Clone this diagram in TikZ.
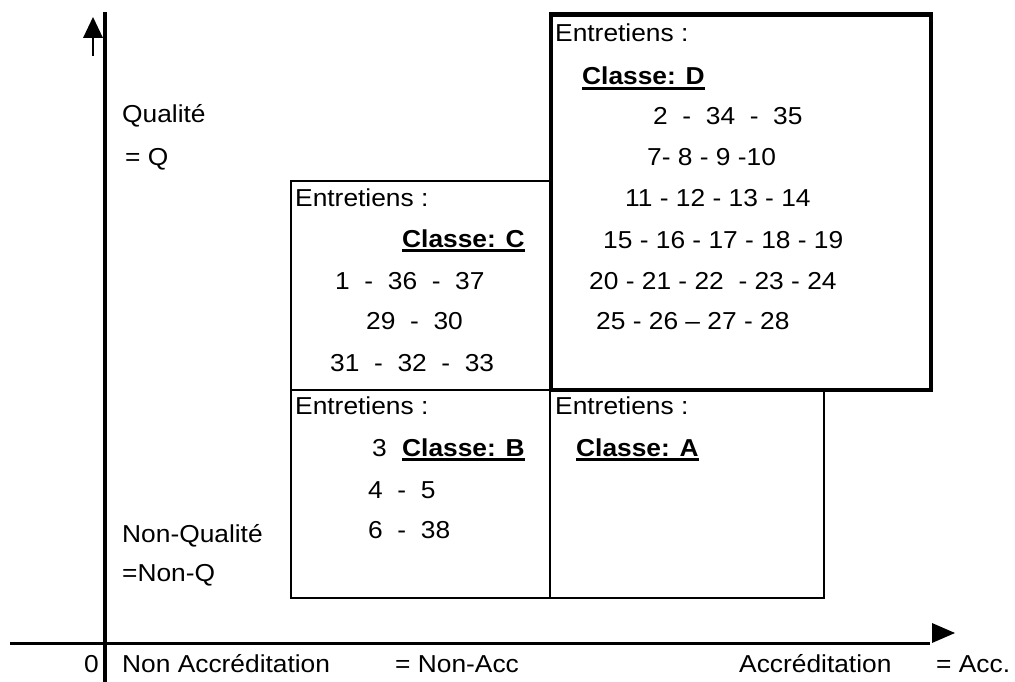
\documentclass[tikz,border=0pt]{standalone}
\usepackage{fontspec}
\setmainfont{Liberation Sans}[FakeStretch=1.075]
\newcommand\ulcl[1]{\setbox0=\hbox{\bfseries #1}\rlap{\rule[-4.6pt]{\wd0}{2.5pt}}\box0}
\begin{document}
\begin{tikzpicture}[x=1pt,y=-1pt,
  txt/.style={anchor=base west,inner sep=0pt,font=\fontsize{24.5}{29}\selectfont},
  thinbox/.style={draw=black,line width=2pt},
  thickbox/.style={draw=black,line width=4.3pt},
  axis/.style={draw=black,line width=#1},
  headfill/.style={fill=black}]
\useasboundingbox (0,0) rectangle (1015,682);
% coordinates
\coordinate (ytop) at (105,12);
\coordinate (ybot) at (105,682);
\coordinate (xleft) at (10,643.5);
\coordinate (xright) at (930,643.5);
\coordinate (yarrS) at (92.5,56);
\coordinate (yarrB) at (92.5,37);
\coordinate (Cnw) at (291,181);
\coordinate (Cse) at (550,390);
\coordinate (Bnw) at (291,390);
\coordinate (Bse) at (550,598);
\coordinate (Anw) at (550,390);
\coordinate (Ase) at (824,598);
\coordinate (Dnw) at (551,14.5);
\coordinate (Dse) at (931,390);
% axes
\draw[axis=4pt] (ytop) -- (ybot);
\draw[axis=3.5pt] (xleft) -- (xright);
\draw[axis=2pt] (yarrS) -- (yarrB);
\fill[headfill] (83,38) -- (103,38) -- (93,17) -- cycle;
\fill[headfill] (932,623) -- (932,643) -- (955,633) -- cycle;
% boxes
\draw[thinbox] (Cnw) rectangle (Cse);
\draw[thinbox] (Bnw) rectangle (Bse);
\draw[thinbox] (Anw) rectangle (Ase);
\draw[thickbox] (Dnw) rectangle (Dse);
% left labels
\node[txt] (q1) at (122,123) {Qualité};
\node[txt] (q2) at (125,165) {= Q};
\node[txt] (nq1) at (122,542) {Non-Qualité};
\node[txt] (nq2) at (122,581) {=Non-Q};
% D
\node[txt] (d0) at (555,42) {Entretiens :};
\node[txt] (d1) at (582,85) {\ulcl{Classe: D}};
\node[txt] (d2) at (653,125) {2~~-~~34~~-~~35};
\node[txt] (d3) at (647,165) {7- 8 - 9 -10};
\node[txt] (d4) at (625,207) {11 - 12 - 13 - 14};
\node[txt] (d5) at (603,248) {15 - 16 - 17 - 18 - 19};
\node[txt] (d6) at (589,289) {20 - 21 - 22~~- 23 - 24};
\node[txt] (d7) at (596,329) {25 - 26 -- 27 - 28};
% C
\node[txt] (c0) at (295,207) {Entretiens :};
\node[txt] (c1) at (402,247) {\ulcl{Classe: C}};
\node[txt] (c2) at (335,289) {1~~-~~36~~-~~37};
\node[txt] (c3) at (366,329) {29~~-~~30};
\node[txt] (c4) at (330,371) {31~~-~~32~~-~~33};
% B
\node[txt] (b0) at (295,414) {Entretiens :};
\node[txt] (b1) at (372,456) {3};
\node[txt] (b2) at (402,456) {\ulcl{Classe: B}};
\node[txt] (b3) at (368,498) {4~~-~~5};
\node[txt] (b4) at (368,538) {6~~-~~38};
% A
\node[txt] (a0) at (555,414) {Entretiens :};
\node[txt] (a1) at (576,456) {\ulcl{Classe: A}};
% bottom
\node[txt] (zero) at (84,672) {0};
\node[txt] (nacc) at (122,672) {Non Accréditation};
\node[txt] (nacc2) at (395,672) {= Non-Acc};
\node[txt] (acc) at (739,672) {Accréditation};
\node[txt] (acc2) at (936,672) {= Acc.};
\end{tikzpicture}
\end{document}
